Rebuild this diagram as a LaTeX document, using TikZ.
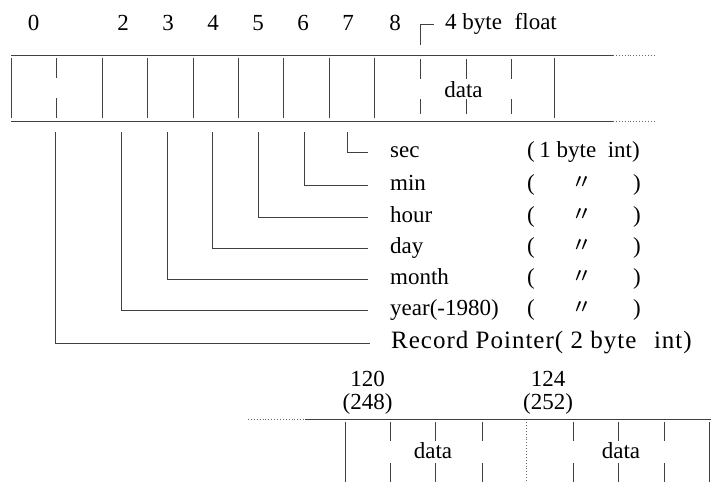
\documentclass[tikz,border=0pt]{standalone}
\usepackage{fontspec}
\setmainfont{Liberation Serif}
\newfontfamily\cjk{Noto Sans CJK JP}
\newfontfamily\rpfont[LetterSpace=4]{Liberation Serif}
\begin{document}
\begin{tikzpicture}[x=1pt,y=-1pt,
  ln/.style={line width=0.9pt,draw=black!75},
  dln/.style={line width=0.9pt,draw=black!60,dotted},
  txt/.style={font=\fontsize{23}{27}\selectfont,inner sep=0pt,text=black},
  lbl/.style={txt,anchor=base west},
  num/.style={txt,anchor=base},
  rp/.style={font=\fontsize{25}{29}\rpfont,inner sep=0pt,anchor=base west},
  ditto/.style={font=\fontsize{21}{24}\cjk,inner sep=0pt,anchor=center}
]
\useasboundingbox (0,0) rectangle (711,482);

% ---------- top record ----------
\coordinate (tl) at (11,55);
\coordinate (tr) at (613,55);
\coordinate (tre) at (655,55);
\coordinate (bl) at (11,121);
\coordinate (br) at (613,121);
\coordinate (bre) at (655,121);
\draw[ln] (tl) -- (tr);
\draw[dln] (tr) -- (tre);
\draw[ln] (bl) -- (br);
\draw[dln] (br) -- (bre);

% full separators
\foreach \x in {11,102,147,193,238,283,329,374,554}
  \draw[ln] (\x,58) -- (\x,118);
% broken separators
\foreach \x in {56}
  {\draw[ln] (\x,58) -- (\x,78); \draw[ln] (\x,98) -- (\x,118);}
\foreach \x in {420,466,511}
  {\draw[ln] (\x,59) -- (\x,79); \draw[ln] (\x,99) -- (\x,114);}

\node[txt,anchor=base] (d1) at (463.5,97) {data};

% byte numbers
\node[num] (n0) at (33.5,30) {0};
\node[num] (n2) at (123,30) {2};
\node[num] (n3) at (168,30) {3};
\node[num] (n4) at (213,30) {4};
\node[num] (n5) at (258,30) {5};
\node[num] (n6) at (303,30) {6};
\node[num] (n7) at (348,30) {7};
\node[num] (n8) at (395,30) {8};

% 4 byte float marker
\coordinate (fb) at (420,45);
\coordinate (fc) at (420,24);
\coordinate (fe) at (434,24);
\draw[ln] (fb) -- (fc) -- (fe);
\node[lbl] (flt) at (445,29) {4 byte\hspace{0.55em}float};

% ---------- field labels ----------
\node[lbl] (sec) at (390,157) {sec};
\node[lbl] (min) at (390,190) {min};
\node[lbl] (hour) at (390,222) {hour};
\node[lbl] (day) at (390,253) {day};
\node[lbl] (month) at (390,284) {month};
\node[lbl] (year) at (390,315) {year(-1980)};
\node[rp] (rec) at (391,348) {Record Pointer(\hspace{0.3em}2 byte\hspace{0.7em}int)};

\node[lbl] (t1) at (527,157) {(\hspace{0.2em}1 byte\hspace{0.5em}int)};
\foreach \n/\y in {tmin/185,thour/217,tday/248,tmonth/279,tyear/310}{
  \node[txt,anchor=west] (\n o) at (527,\y) {(};
  \node[ditto] (\n d) at (582,\y-2) {〃};
  \node[txt,anchor=east] (\n c) at (641,\y) {)};
}

% ---------- leader lines ----------
\coordinate (e1) at (368,152);
\coordinate (e2) at (368,185);
\coordinate (e3) at (368,217);
\coordinate (e4) at (368,248);
\coordinate (e5) at (368,279);
\coordinate (e6) at (368,310);
\coordinate (e7) at (370,343);
\draw[ln] (347,132) |- (e1);
\draw[ln] (304,132) |- (e2);
\draw[ln] (258,132) |- (e3);
\draw[ln] (212,132) |- (e4);
\draw[ln] (167,132) |- (e5);
\draw[ln] (121,132) |- (e6);
\draw[ln] (55,132) |- (e7);

% ---------- bottom record ----------
\node[txt,align=center,anchor=north] (o120) at (367.5,371) {120\\[-4pt](248)};
\node[txt,align=center,anchor=north] (o124) at (548,371) {124\\[-4pt](252)};

\coordinate (btl) at (248,419);
\coordinate (btm) at (305,419);
\coordinate (btr) at (711,419);
\draw[dln] (btl) -- (btm);
\draw[ln] (btm) -- (btr);

\foreach \x in {345,709}
  \draw[ln] (\x,422) -- (\x,482);
\draw[dln] (526,422) -- (526,482);
\foreach \x in {390,435,482,573,618,664}
  {\draw[ln] (\x,422) -- (\x,441); \draw[ln] (\x,463) -- (\x,482);}

\node[txt,anchor=base] (d2) at (433,458) {data};
\node[txt,anchor=base] (d3) at (621,458) {data};
\end{tikzpicture}
\end{document}
